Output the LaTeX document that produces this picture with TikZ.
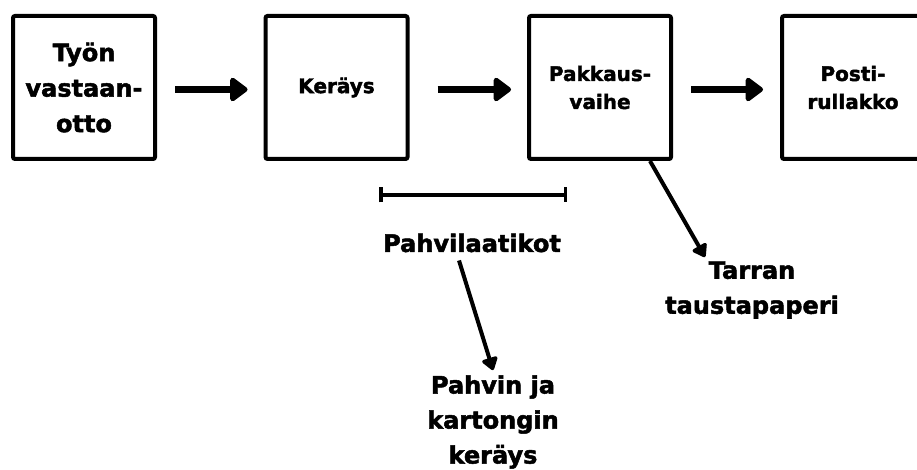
\documentclass[tikz,border=0pt]{standalone}
\usepackage{fontspec}
\setmainfont{DejaVu Sans}[BoldFeatures={FakeBold=2}]
\usetikzlibrary{arrows.meta}
\tikzset{
  stage/.style={draw, line width=4pt, rounded corners=2pt, minimum width=142pt, minimum height=143pt, inner sep=0pt, align=center},
  bigfont/.style={font=\fontsize{24pt}{35.5pt}\selectfont\bfseries},
  smallfont/.style={font=\fontsize{20pt}{28pt}\selectfont\bfseries},
  lbl/.style={inner sep=0pt, align=center, font=\fontsize{24pt}{35pt}\selectfont\bfseries},
  flow/.style={line width=7pt, -{Triangle[length=19pt,width=27pt,round]}},
  thin/.style={line width=4pt, -{Triangle[length=14pt,width=18pt,round]}},
  span/.style={line width=3.5pt, {Bar[width=15pt]}-{Bar[width=15pt]}}
}
\begin{document}
\begin{tikzpicture}[x=1pt,y=-1pt]
\useasboundingbox (0,0) rectangle (917,470);
\clip (0,0) rectangle (917,470);
\fill[white] (0,0) rectangle (917,470);
\node[stage,bigfont] (b1) at (84,87.5) {Työn\\vastaan-\\otto};
\node[stage,smallfont] (b2) at (336.5,87.5) {Keräys};
\node[stage,smallfont] (b3) at (600,87.5) {Pakkaus-\\vaihe};
\node[stage,smallfont] (b4) at (853,87.5) {Posti-\\rullakko};
\draw[flow, shorten <=18pt, shorten >=16pt] ([yshift=-2pt]b1.east) -- ([yshift=-2pt]b2.west);
\draw[flow, shorten <=28pt, shorten >=16pt] ([yshift=-2pt]b2.east) -- ([yshift=-2pt]b3.west);
\draw[flow, shorten <=18pt, shorten >=17pt] ([yshift=-2pt]b3.east) -- ([yshift=-2pt]b4.west);
\coordinate (bl) at (379,195);
\coordinate (br) at (567,195);
\draw[span] (bl) -- (br);
\node[lbl] (pahvi) at (472,243) {Pahvilaatikot};
\node[lbl] (tarran) at (752,290) {Tarran\\taustapaperi};
\node[lbl] (pahvin) at (493,422) {Pahvin ja\\kartongin\\keräys};
\coordinate (tt) at (705,257);
\draw[thin] ([xshift=-13pt,yshift=-8pt]pahvi.south) -- ([yshift=5pt]pahvin.north);
\draw[thin] ([xshift=50pt]b3.south) -- (tt);
\end{tikzpicture}
\end{document}
